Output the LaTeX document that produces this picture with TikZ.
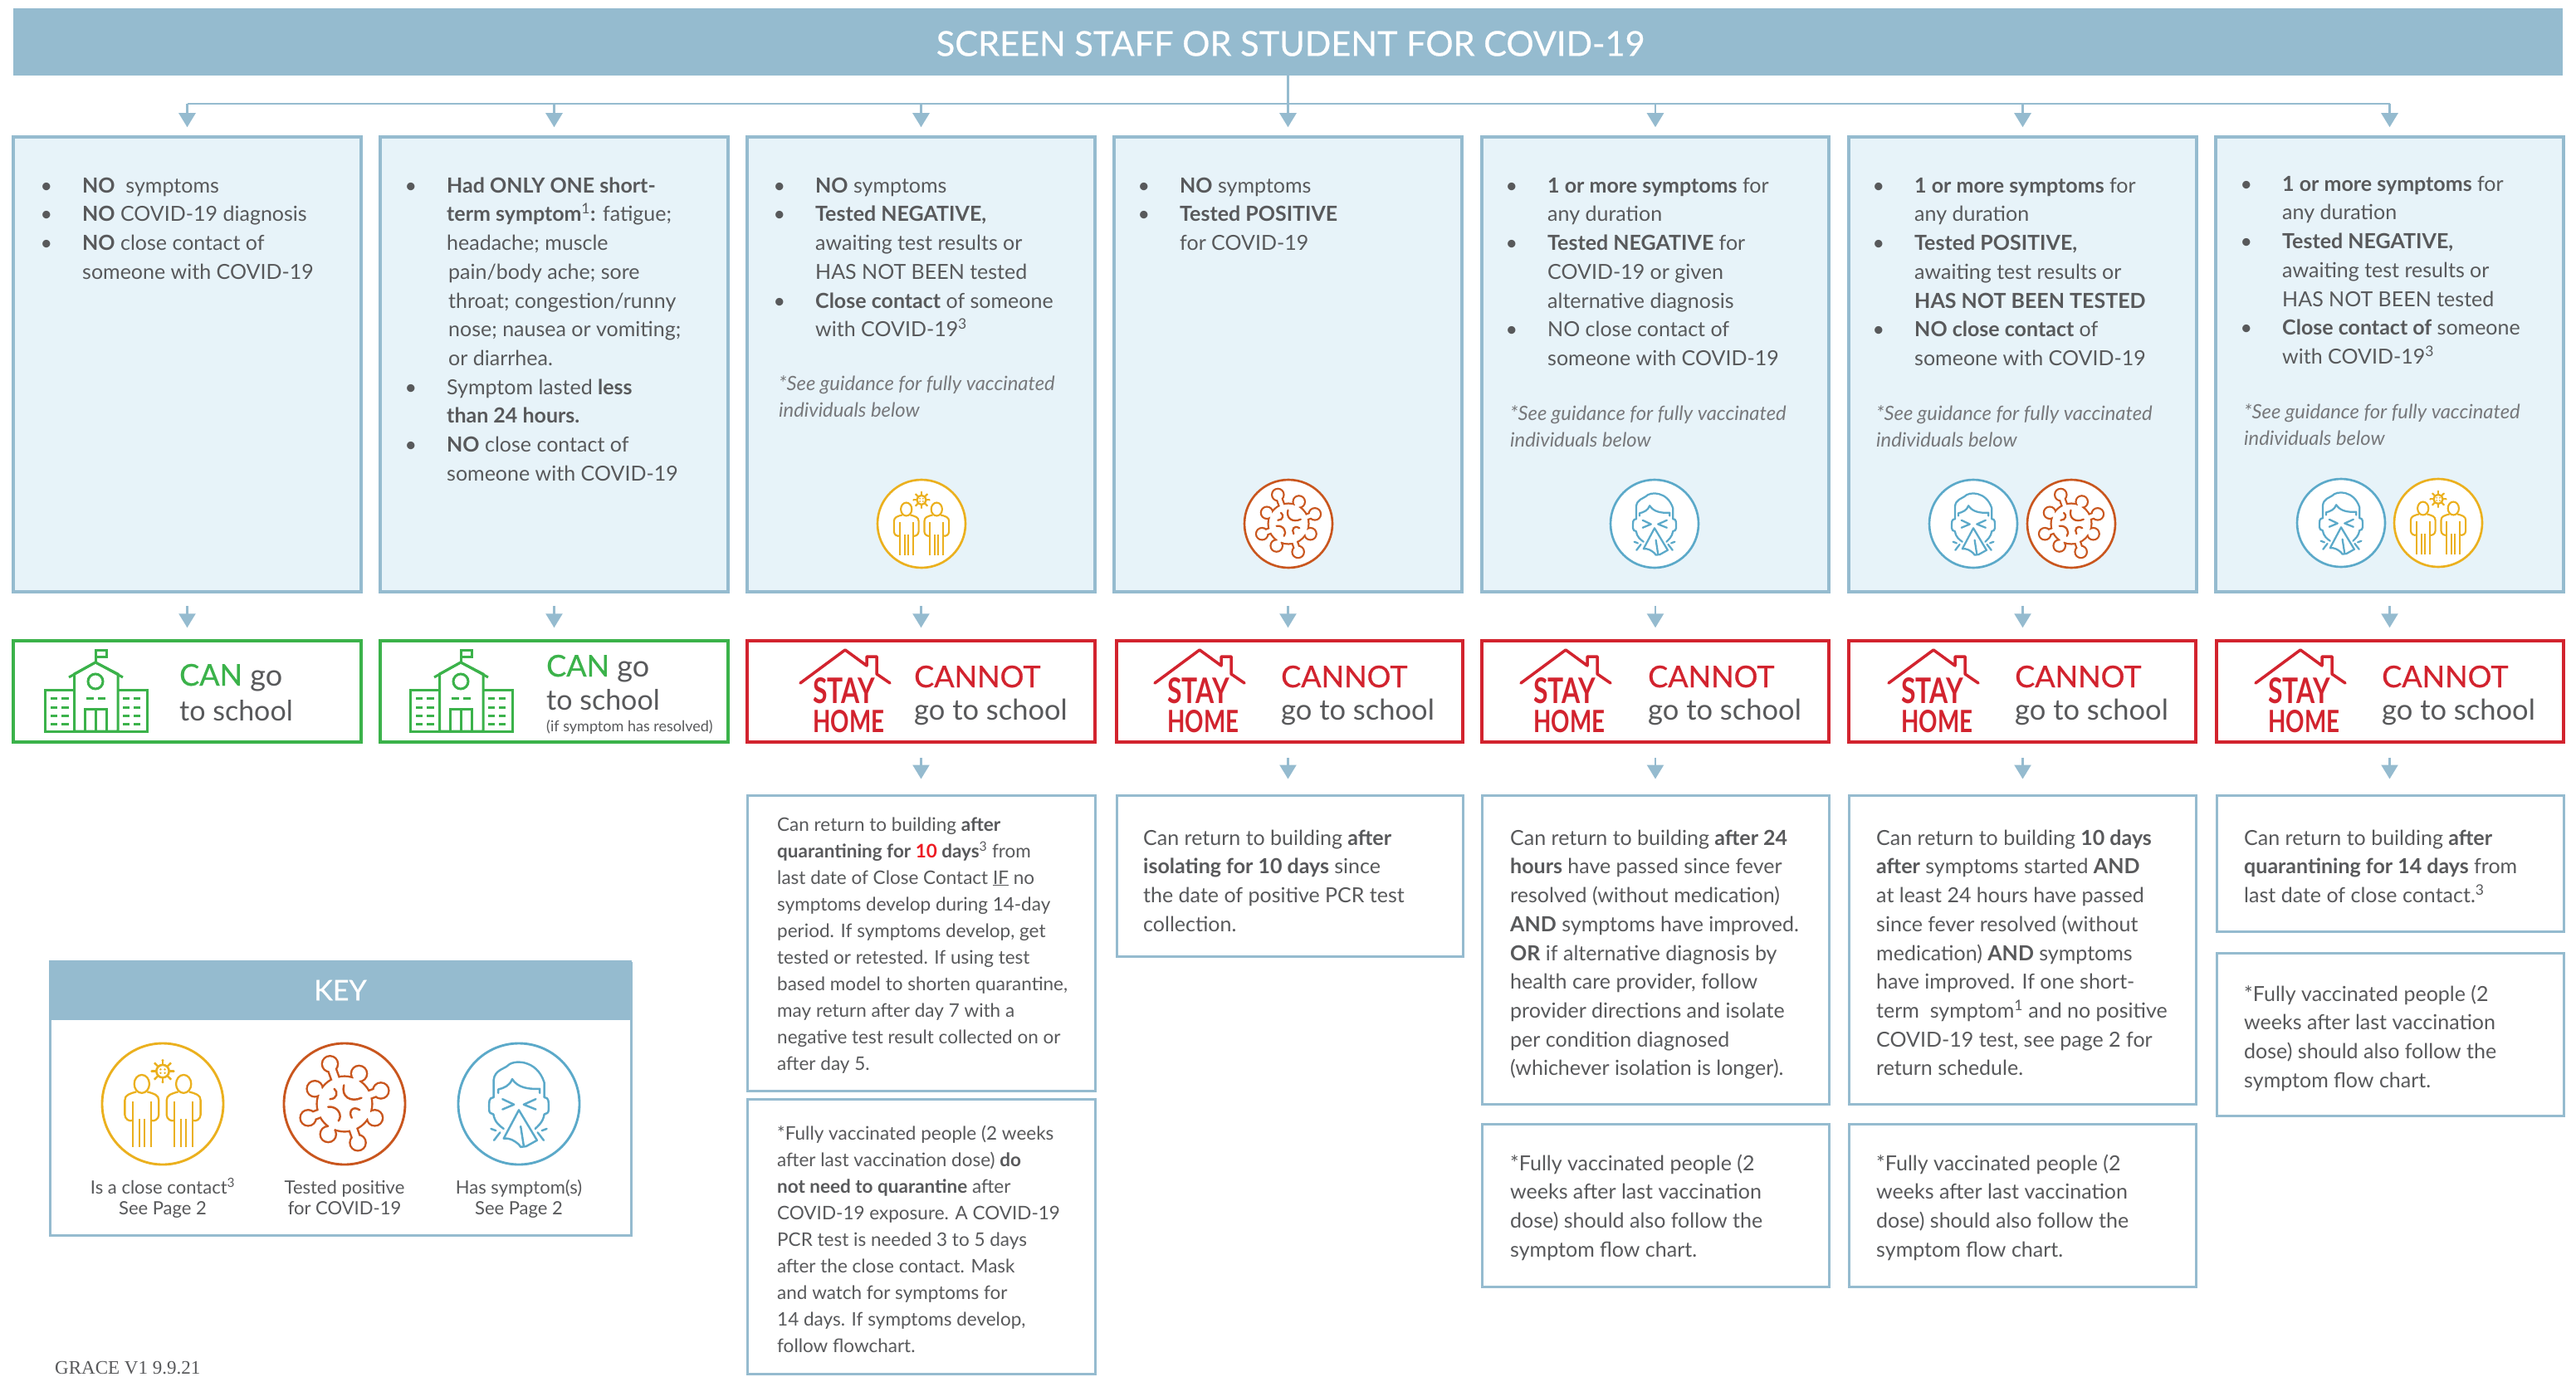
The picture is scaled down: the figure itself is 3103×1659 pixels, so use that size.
\documentclass[tikz,border=0pt]{standalone}
\usepackage{fontspec}
\usepackage{graphicx}
\setmainfont{Lato}
\newfontfamily\serifgrace{Liberation Serif}
\newfontfamily\medfont[FakeBold=0.5]{Lato}
\usetikzlibrary{arrows.meta,fit,calc}
\definecolor{bar}{HTML}{95BBCF}
\definecolor{pale}{HTML}{E7F3F9}
\definecolor{okgreen}{HTML}{3BB24A}
\definecolor{stopred}{HTML}{D2232E}
\definecolor{hotred}{HTML}{ED1C24}
\definecolor{ink}{HTML}{58595B}
\definecolor{inkit}{HTML}{77787B}
\definecolor{icyellow}{HTML}{EBB01E}
\definecolor{icorange}{HTML}{C9561E}
\definecolor{icblue}{HTML}{5BA9C9}
\tikzset{
  topbox/.style={draw=bar,fill=pale,line width=3.5pt,inner sep=0pt},
  lowbox/.style={draw=bar,fill=white,line width=3pt,inner sep=0pt},
  goodbox/.style={draw=okgreen,fill=white,line width=3.5pt,inner sep=0pt},
  badbox/.style={draw=stopred,fill=white,line width=3.5pt,inner sep=0pt},
  barbox/.style={fill=bar,inner sep=0pt},
  flow/.style={draw=bar,line width=2.5pt,-{Triangle[length=17pt,width=20pt]}},
  busline/.style={draw=bar,line width=2.5pt},
  bodytext/.style={anchor=north west,inner sep=0pt,align=left,text=ink},
  oneline/.style={anchor=base west,inner sep=0pt,text=ink},
  keylabel/.style={anchor=base,inner sep=0pt,text=ink,font=\fontsize{22}{26}\selectfont},
}
\newcommand\boxat[6]{\node[#1,fit={(#3,#4)(#5,#6)}] (#2) {};}
% name, x, first baseline, pitch, size, content
\newcommand\txt[6]{\pgfmathsetmacro\ytop{#3-0.7*#4}%
  \node[bodytext,font=\fontsize{#5}{#4}\selectfont] (#1) at (#2,\ytop) {\strut #6};}
\newcommand\itxt[4]{\pgfmathsetmacro\ytop{#3-0.7*32}%
  \node[bodytext,text=inkit,font=\fontsize{23.8}{32}\selectfont\itshape] (#1) at (#2,\ytop) {\strut #4};}
\newcommand\bul{\leavevmode\llap{\textbullet\hspace{36pt}}}
\newcommand\sups[1]{\textsuperscript{#1}}
% icons: x, y, R
\newcommand\iconpeople[3]{\pgfmathsetmacro\lw{2+#3*0.012}%
  \begin{scope}[shift={(#1,#2)},x=#3pt,y=-#3pt]
    \draw[icyellow,fill=white,line width=\lw pt] (0,0) circle[radius=1];
    \foreach \px in {-0.345,0.345}{
      \begin{scope}[shift={(\px,0)}]
        \draw[icyellow,line width=\lw pt*0.8]
          (0,-.33) ellipse[x radius=.125,y radius=.15];
        \draw[icyellow,line width=\lw pt*0.8,line join=round]
          (-.15,.27) .. controls (-.2,.3) and (-.28,.25) .. (-.28,.18)
          -- (-.28,-.06) .. controls (-.28,-.15) and (-.2,-.17) .. (-.09,-.2)
          (.09,-.2) .. controls (.2,-.17) and (.28,-.15) .. (.28,-.06)
          -- (.28,.18) .. controls (.28,.25) and (.2,.3) .. (.15,.27);
        \draw[icyellow,line width=\lw pt*0.8]
          (-.15,-.04) -- (-.15,.71) (.15,-.04) -- (.15,.71)
          (-.04,.25) -- (-.04,.71) (.04,.25) -- (.04,.71);
      \end{scope}}
    \draw[icyellow,line width=\lw pt*0.9] (0,-.54) circle[radius=.105];
    \foreach \a in {0,45,...,315}{
      \draw[icyellow,line width=\lw pt*0.8] ({.105*cos(\a)},{-.54+.105*sin(\a)}) -- ({.18*cos(\a)},{-.54+.18*sin(\a)});
      \fill[icyellow] ({.18*cos(\a)},{-.54+.18*sin(\a)}) circle[radius=.022];}
    \fill[icyellow] (-.035,-.57) circle[radius=.018] (.035,-.57) circle[radius=.018]
      (-.035,-.51) circle[radius=.018] (.035,-.51) circle[radius=.018];
  \end{scope}}
\newcommand\iconvirus[3]{\pgfmathsetmacro\lw{2+#3*0.012}%
  \pgfmathsetmacro\wo{#3*0.17}\pgfmathsetmacro\wi{\wo-2*\lw*0.85}%
  \pgfmathsetmacro\ro{0.44+\lw*0.85/#3}\pgfmathsetmacro\bo{0.115+\lw*0.85/#3}%
  \begin{scope}[shift={(#1,#2)},x=#3pt,y=-#3pt]
    \draw[icorange,fill=white,line width=\lw pt] (0,0) circle[radius=1];
    \foreach \u/\v in {-.24/-.66,.24/-.5,.6/-.22,.5/.23,.22/.64,-.27/.5,-.6/.23,-.49/-.25}{
      \draw[icorange,line width=\wo pt] (0,0) -- (\u,\v);
      \fill[icorange] (\u,\v) circle[radius=\bo];}
    \fill[icorange] (0,0) circle[radius=\ro];
    \foreach \u/\v in {-.24/-.66,.24/-.5,.6/-.22,.5/.23,.22/.64,-.27/.5,-.6/.23,-.49/-.25}{
      \draw[white,line width=\wi pt] (0,0) -- (\u,\v);
      \fill[white] (\u,\v) circle[radius=.115];}
    \fill[white] (0,0) circle[radius=.44];
    \draw[icorange,line width=\lw pt*0.85,line cap=round]
      (-.01,-.31) .. controls (-.06,-.12) and (.1,-.02) .. (.28,-.1)
      (-.17,-.25) .. controls (-.1,-.2) and (-.12,-.08) .. (-.24,-.08)
      (-.27,.05) .. controls (-.1,.03) and (-.03,.2) .. (-.1,.28)
      (.25,.1) .. controls (.13,.02) and (.06,.13) .. (.12,.23);
  \end{scope}}
\newcommand\iconsneeze[3]{\pgfmathsetmacro\lw{2+#3*0.012}%
  \begin{scope}[shift={(#1,#2)},x=#3pt,y=-#3pt]
    \draw[icblue,fill=white,line width=\lw pt] (0,0) circle[radius=1];
    \begin{scope}[icblue,line width=\lw pt*0.85,line join=round,line cap=round]
      \draw (-.415,-.11) -- (-.415,-.4) .. controls (-.4,-.55) and (-.25,-.58) .. (-.2,-.62)
        .. controls (-.1,-.74) and (.3,-.74) .. (.42,-.35) -- (.42,-.11);
      \draw (-.415,-.11) .. controls (-.5,-.1) and (-.49,-.05) .. (-.49,.1)
        .. controls (-.49,.15) and (-.46,.16) .. (-.42,.17) .. controls (-.4,.3) and (-.32,.36) .. (-.25,.41);
      \draw (.42,-.11) .. controls (.5,-.1) and (.49,-.05) .. (.49,.1)
        .. controls (.49,.15) and (.46,.16) .. (.42,.17) .. controls (.4,.3) and (.32,.36) .. (.27,.41);
      \draw (-.34,-.18) -- (-.34,-.24) .. controls (-.25,-.26) and (-.15,-.3) .. (-.11,-.41)
        .. controls (-.02,-.27) and (.15,-.24) .. (.345,-.25) -- (.345,-.18);
      \draw (-.27,-.08) -- (-.08,.01) -- (-.27,.09) (.28,-.08) -- (.08,.01) -- (.28,.09);
      \draw (0,.1) -- (-.25,.57) .. controls (-.15,.56) and (-.08,.6) .. (0,.67) -- (.03,.71) -- (.12,.7) -- (.3,.6) -- cycle;
      \draw (.03,.37) -- (.08,.69);
      \draw (-.46,.41) -- (-.38,.44) (-.41,.6) -- (-.31,.47) (.46,.41) -- (.38,.44) (.41,.6) -- (.31,.47);
    \end{scope}
  \end{scope}}
\newcommand\school[1]{%
  \begin{scope}[shift={(#1,0)},okgreen,line width=3pt,line join=miter]
    \draw (-60.6,881) rectangle (62,831);
    \draw[fill=white] (-25.5,881) -- (-25.5,812) -- (0,798) -- (27,812) -- (27,881) -- cycle;
    \draw (-32,816) -- (0,798) -- (33,816);
    \draw (0,798) -- (0,783) -- (13,783) -- (13,791) -- (0,791);
    \draw (0,821) circle[radius=9];
    \draw (-11.5,841) -- (-2.5,841) (2.5,841) -- (11.5,841);
    \draw (-13,881) -- (-13,854) -- (13,854) -- (13,881) (0,854) -- (0,881);
    \foreach \yy in {841,852,862,872}{
      \draw (-54,\yy) -- (-46,\yy) (-41,\yy) -- (-32,\yy) (33,\yy) -- (41,\yy) (46,\yy) -- (54,\yy);}
  \end{scope}}
% suffix, x of roof left
\newcommand\stayhome[2]{%
  \draw[stopred,line width=3.5pt,line join=round,line cap=round]
    (#2,823) -- ++(54,-40) -- ++(26,19) -- ++(0,-11) -- ++(12,0) -- ++(0,21) -- ++(16,11);
  \node[inner sep=0pt,anchor=south west,text=stopred] (stay#1) at ($(#2,848)+(15,0)$)
    {\resizebox{75pt}{31pt}{\textbf{STAY}}};
  \node[inner sep=0pt,anchor=south west,text=stopred] (home#1) at ($(#2,883)+(15,0)$)
    {\resizebox{86pt}{27pt}{\textbf{HOME}}};}
\begin{document}
\begin{tikzpicture}[x=1pt,y=-1pt]
\useasboundingbox (0,0) rectangle (3103,1659);
\fill[white] (0,0) rectangle (3103,1659);
% title
\boxat{barbox}{title}{16}{10}{3087}{91}
\node[inner sep=0pt,text=white,font=\medfont\fontsize{41.5}{46}\selectfont] (titletext) at ($(title.center)+(3,2)$) {SCREEN STAFF OR STUDENT FOR COVID-19};
% top boxes
\boxat{topbox}{top1}{16}{165}{435}{713}
\boxat{topbox}{top2}{458}{165}{877}{713}
\boxat{topbox}{top3}{900}{165}{1319}{713}
\boxat{topbox}{top4}{1342}{165}{1761}{713}
\boxat{topbox}{top5}{1785}{165}{2203}{713}
\boxat{topbox}{top6}{2227}{165}{2646}{713}
\boxat{topbox}{top7}{2669}{165}{3088}{713}
% result boxes
\boxat{goodbox}{res1}{16}{772}{435}{894}
\boxat{goodbox}{res2}{458}{772}{877}{894}
\boxat{badbox}{res3}{900}{772}{1319}{894}
\boxat{badbox}{res4}{1345}{772}{1762}{894}
\boxat{badbox}{res5}{1785}{772}{2203}{894}
\boxat{badbox}{res6}{2227}{772}{2645}{894}
\boxat{badbox}{res7}{2670}{772}{3088}{894}
% lower boxes
\boxat{lowbox}{lowa3}{900}{958}{1319}{1314}
\boxat{lowbox}{lowb3}{900}{1324}{1319}{1655}
\boxat{lowbox}{lowa4}{1345}{958}{1762}{1152}
\boxat{lowbox}{lowa5}{1785}{958}{2203}{1330}
\boxat{lowbox}{lowb5}{1785}{1354}{2203}{1550}
\boxat{lowbox}{lowa6}{2227}{958}{2645}{1330}
\boxat{lowbox}{lowb6}{2227}{1354}{2645}{1550}
\boxat{lowbox}{lowa7}{2670}{958}{3088}{1122}
\boxat{lowbox}{lowb7}{2670}{1148}{3088}{1344}
% connectors
\coordinate (bus) at (1552,125);
\draw[busline] (top1.north |- bus) -- (top7.north |- bus);
\draw[flow,shorten >=10pt] (title.south -| top4.north) -- (top4.north);
\foreach \i in {1,2,3,5,6,7}{
  \draw[flow,shorten >=10pt] (top\i.north |- bus) -- (top\i.north);}
\foreach \i in {1,...,7}{
  \draw[flow,shorten <=15pt,shorten >=14pt] (top\i.south) -- (top\i.south |- res\i.north);}
\foreach \i in {3,...,7}{
  \draw[flow,shorten <=17pt,shorten >=18pt] (res\i.south -| top\i.south) -- (top\i.south |- lowa\i.north);}
% top text
\txt{t1}{99}{232}{34.7}{25}{\bul\textbf{NO}\ \ symptoms\\\bul\textbf{NO} COVID-19 diagnosis\\\bul\textbf{NO} close contact of\\someone with COVID-19}
\txt{t2}{538}{232}{34.7}{25}{\bul\textbf{Had ONLY ONE short-}\\\textbf{term symptom}\sups{1}\textbf{:} fatigue;\\headache; muscle\\\hspace{2pt}pain/body ache; sore\\\hspace{2pt}throat; congestion/runny\\\hspace{2pt}nose; nausea or vomiting;\\\hspace{2pt}or diarrhea.\\\bul Symptom lasted \textbf{less}\\\textbf{than 24 hours.}\\\bul\textbf{NO} close contact of\\someone with COVID-19}
\txt{t3}{982}{232}{34.7}{25}{\bul\textbf{NO} symptoms\\\bul\textbf{Tested NEGATIVE,}\\awaiting test results or\\HAS NOT BEEN tested\\\bul\textbf{Close contact} of someone\\with COVID-19\sups{3}}
\itxt{i3}{938}{470}{*See guidance for fully vaccinated\\individuals below}
\txt{t4}{1421}{232}{34.7}{25}{\bul\textbf{NO} symptoms\\\bul\textbf{Tested POSITIVE}\\for COVID-19}
\txt{t5}{1864}{232}{34.7}{25}{\bul\textbf{1 or more symptoms} for\\any duration\\\bul\textbf{Tested NEGATIVE} for\\COVID-19 or given\\alternative diagnosis\\\bul NO close contact of\\someone with COVID-19}
\itxt{i5}{1819}{506}{*See guidance for fully vaccinated\\individuals below}
\txt{t6}{2306}{232}{34.7}{25}{\bul\textbf{1 or more symptoms} for\\any duration\\\bul\textbf{Tested POSITIVE,}\\awaiting test results or\\\textbf{HAS NOT BEEN TESTED}\\\bul\textbf{NO close contact} of\\someone with COVID-19}
\itxt{i6}{2260}{506}{*See guidance for fully vaccinated\\individuals below}
\txt{t7}{2749}{230}{34.7}{25}{\bul\textbf{1 or more symptoms} for\\any duration\\\bul\textbf{Tested NEGATIVE,}\\awaiting test results or\\HAS NOT BEEN tested\\\bul\textbf{Close contact of} someone\\with COVID-19\sups{3}}
\itxt{i7}{2703}{504}{*See guidance for fully vaccinated\\individuals below}
% icons
\iconpeople{1110}{631}{53}
\iconvirus{1552}{631}{53}
\iconsneeze{1993}{631}{53}
\iconsneeze{2377}{631}{53}
\iconvirus{2495}{631}{53}
\iconsneeze{2820}{630}{53}
\iconpeople{2937}{630}{53}
% result contents
\school{115}
\school{555}
\node[oneline,font=\fontsize{36}{40}\selectfont] (can1) at (216,826) {\textcolor{okgreen}{\medfont CAN} go};
\node[oneline,font=\fontsize{34}{40}\selectfont] (go1) at (216,868) {to school};
\node[oneline,font=\fontsize{36}{40}\selectfont] (can2) at (658,815) {\textcolor{okgreen}{\medfont CAN} go};
\node[oneline,font=\fontsize{34}{40}\selectfont] (go2) at (658,855) {to school};
\node[oneline,font=\fontsize{18}{20}\selectfont] (if2) at (658,881) {(if symptom has resolved)};
\stayhome{3}{964}
\stayhome{4}{1391}
\stayhome{5}{1832}
\stayhome{6}{2275}
\stayhome{7}{2717}
\foreach \i/\xx in {3/1101,4/1543,5/1985,6/2427,7/2869}{
  \node[oneline,text=stopred,font=\medfont\fontsize{36}{40}\selectfont] (cannot\i) at (\xx,828) {CANNOT};
  \node[oneline,font=\fontsize{34.5}{40}\selectfont] (gots\i) at (\xx,867) {go to school};}
% lower text
\txt{l3}{936}{1001}{32}{22.5}{Can return to building \textbf{after}\\\textbf{quarantining for \textcolor{hotred}{10} days}\sups{3} from\\last date of Close Contact \underline{IF} no\\symptoms develop during 14-day\\period. If symptoms develop, get\\tested or retested. If using test\\based model to shorten quarantine,\\may return after day 7 with a\\negative test result collected on or\\after day 5.}
\txt{m3}{936}{1373}{32}{22.5}{*Fully vaccinated people (2 weeks\\after last vaccination dose) \textbf{do}\\\textbf{not need to quarantine} after\\COVID-19 exposure. A COVID-19\\PCR test is needed 3 to 5 days\\after the close contact. Mask\\and watch for symptoms for\\14 days. If symptoms develop,\\follow flowchart.}
\txt{l4}{1377}{1018}{34.7}{25}{Can return to building \textbf{after}\\\textbf{isolating for 10 days} since\\the date of positive PCR test\\collection.}
\txt{l5}{1819}{1018}{34.7}{25}{Can return to building \textbf{after 24}\\\textbf{hours} have passed since fever\\resolved (without medication)\\\textbf{AND} symptoms have improved.\\\textbf{OR} if alternative diagnosis by\\health care provider, follow\\provider directions and isolate\\per condition diagnosed\\(whichever isolation is longer).}
\txt{m5}{1819}{1410}{34.7}{25}{*Fully vaccinated people (2\\weeks after last vaccination\\dose) should also follow the\\symptom flow chart.}
\txt{l6}{2260}{1018}{34.7}{25}{Can return to building \textbf{10 days}\\\textbf{after} symptoms started \textbf{AND}\\at least 24 hours have passed\\since fever resolved (without\\medication) \textbf{AND} symptoms\\have improved. If one short-\\term\ \ symptom\sups{1} and no positive\\COVID-19 test, see page 2 for\\return schedule.}
\txt{m6}{2260}{1410}{34.7}{25}{*Fully vaccinated people (2\\weeks after last vaccination\\dose) should also follow the\\symptom flow chart.}
\txt{l7}{2703}{1018}{34.7}{25}{Can return to building \textbf{after}\\\textbf{quarantining for 14 days} from\\last date of close contact.\sups{3}}
\txt{m7}{2703}{1206}{34.7}{25}{*Fully vaccinated people (2\\weeks after last vaccination\\dose) should also follow the\\symptom flow chart.}
% key
\boxat{lowbox}{keybox}{60}{1160}{760}{1488}
\boxat{barbox}{keyhead}{59}{1157}{761}{1229}
\node[inner sep=0pt,text=white,font=\medfont\fontsize{34}{38}\selectfont] (keytitle) at (keyhead.center) {KEY};
\iconpeople{196}{1330}{73}
\iconvirus{415}{1330}{73}
\iconsneeze{625}{1330}{73}
\node[keylabel] (ka1) at (196,1438) {Is a close contact\sups{3}};
\node[keylabel] (ka2) at (196,1463) {See Page 2};
\node[keylabel] (kb1) at (415,1438) {Tested positive};
\node[keylabel] (kb2) at (415,1463) {for COVID-19};
\node[keylabel] (kc1) at (625,1438) {Has symptom(s)};
\node[keylabel] (kc2) at (625,1463) {See Page 2};
\node[anchor=base west,inner sep=0pt,text=ink,font=\serifgrace\fontsize{23}{26}\selectfont] (grace) at (66,1655) {GRACE V1 9.9.21};
\end{tikzpicture}
\end{document}
